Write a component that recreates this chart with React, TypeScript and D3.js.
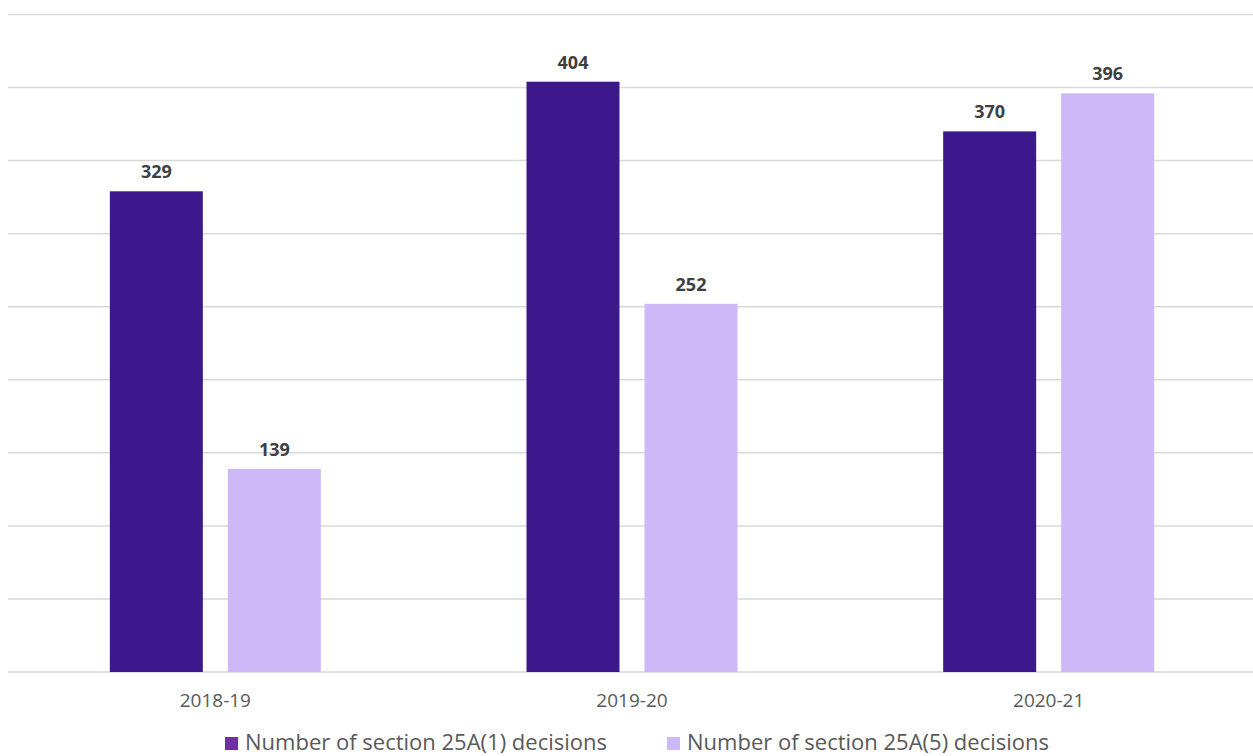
import React from "react";
import * as d3 from "d3";

const categories = ["2018-19", "2019-20", "2020-21"];
const seriesNames = [
  "Number of section 25A(1) decisions",
  "Number of section 25A(5) decisions",
];
const decisions25A1 = [329, 404, 370];
const decisions25A5 = [139, 252, 396];
const gridTicks = [0, 50, 100, 150, 200, 250, 300, 350, 400, 450];

const W = 1253;
const H = 756;
const left = 8;
const right = 1253;
const top = 14.5;
const bottom = 672;

const barColors = ["#3c188c", "#cdb8f8"];
const legendColors = ["#7030a0", "#cdb8f8"];
const font = "'Open Sans', 'Liberation Sans', sans-serif";

export default function App() {
  const x0 = d3.scaleBand<string>().domain(categories).range([7, 1257]).padding(0);
  const groupWidth = 211;
  const x1 = d3
    .scaleBand<number>()
    .domain([0, 1])
    .range([0, groupWidth])
    .paddingInner(25 / 118)
    .paddingOuter(0);
  const y = d3.scaleLinear().domain([0, 450]).range([bottom, top]);

  const seriesValues = [decisions25A1, decisions25A5];
  const legendX = [225, 667];

  return (
    <svg
      width={W}
      height={H}
      style={{ position: "absolute", left: 0, top: 0, background: "#fff" }}
    >
      {gridTicks.map((t) => (
        <line
          key={t}
          x1={left}
          x2={right}
          y1={y(t)}
          y2={y(t)}
          stroke="#d9d9d9"
          strokeWidth={1.5}
        />
      ))}
      {categories.map((c, i) => {
        const cx = (x0(c) as number) + x0.bandwidth() / 2;
        const gx = cx - groupWidth / 2;
        return (
          <g key={c}>
            {seriesValues.map((vals, s) => {
              const bx = gx + (x1(s) as number);
              const bw = x1.bandwidth();
              return (
                <g key={s}>
                  <rect
                    x={bx}
                    y={y(vals[i])}
                    width={bw}
                    height={bottom - y(vals[i])}
                    fill={barColors[s]}
                  />
                  <text
                    x={bx + bw / 2}
                    y={y(vals[i]) - 13}
                    textAnchor="middle"
                    fontFamily={font}
                    fontWeight="bold"
                    fontSize={18}
                    fill="#404040"
                  >
                    {vals[i]}
                  </text>
                </g>
              );
            })}
            <text
              x={cx}
              y={707}
              textAnchor="middle"
              fontFamily={font}
              fontSize={19}
              fill="#595959"
            >
              {c}
            </text>
          </g>
        );
      })}
      {seriesNames.map((name, s) => (
        <g key={name}>
          <rect x={legendX[s]} y={737} width={13} height={13} fill={legendColors[s]} />
          <text
            x={legendX[s] + 20}
            y={750}
            fontFamily={font}
            fontSize={22}
            fill="#595959"
          >
            {name}
          </text>
        </g>
      ))}
    </svg>
  );
}
